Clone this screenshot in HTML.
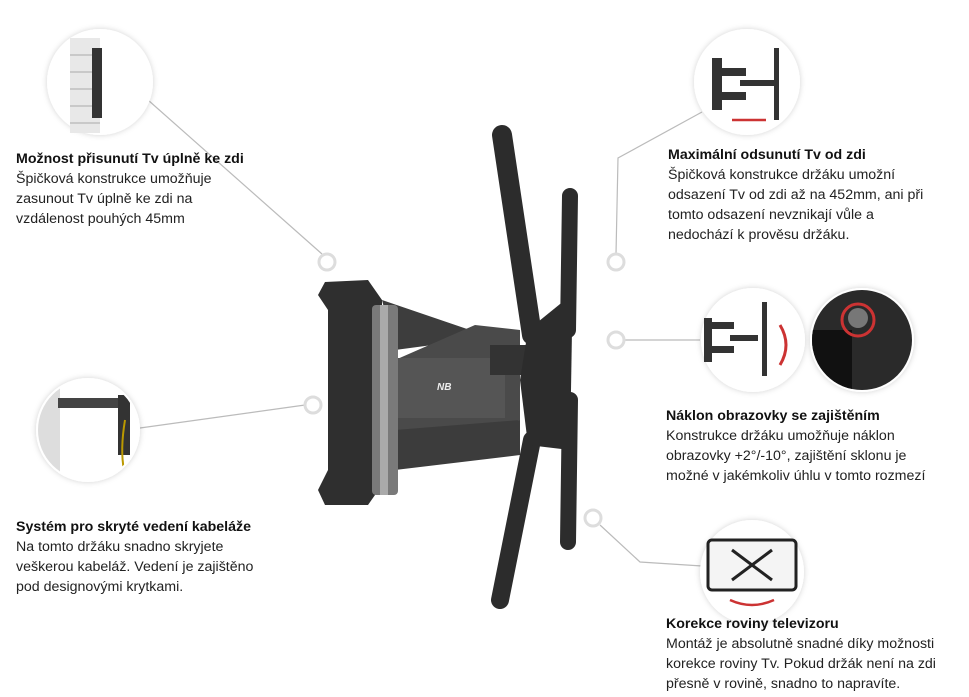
<!DOCTYPE html>
<html><head><meta charset="utf-8"><style>
html,body{margin:0;padding:0;background:#fff;}
body{width:969px;height:697px;position:relative;overflow:hidden;font-family:"Liberation Sans","DejaVu Sans",sans-serif;color:#222;}
.t{position:absolute;font-size:14.2px;line-height:20px;white-space:nowrap;}
.t b{font-weight:bold;color:#111;}
svg{position:absolute;left:0;top:0;}
</style></head><body>
<svg width="969" height="697" viewBox="0 0 969 697">
<defs>
<filter id="sh" x="-30%" y="-30%" width="160%" height="160%"><feDropShadow dx="0" dy="0" stdDeviation="3" flood-color="#000" flood-opacity="0.18"/></filter>
</defs>
<g stroke="#bbb" stroke-width="1.2" fill="none">
<line x1="148" y1="100" x2="322" y2="254"/>
<polyline points="702,112 618,158 616,254"/>
<line x1="624" y1="340" x2="700" y2="340"/>
<line x1="140" y1="428" x2="305" y2="405"/>
<polyline points="600,525 640,562 702,566"/>
</g>
<g fill="none" stroke="#ddd" stroke-width="3">
<circle cx="327" cy="262" r="8"/><circle cx="313" cy="405" r="8"/>
<circle cx="616" cy="262" r="8"/><circle cx="616" cy="340" r="8"/>
<circle cx="593" cy="518" r="8"/>
</g>
<g fill="#fff" filter="url(#sh)">
<circle cx="100" cy="82" r="53"/><circle cx="747" cy="82" r="53"/>
<circle cx="753" cy="340" r="52"/><circle cx="862" cy="340" r="52"/>
<circle cx="88" cy="430" r="52"/><circle cx="752" cy="572" r="52"/>
</g>
<g>
<rect x="70" y="38" width="30" height="95" fill="#e8e8e8"/>
<g stroke="#aaa" stroke-width="1" fill="none">
<line x1="70" y1="55" x2="100" y2="55"/><line x1="70" y1="72" x2="100" y2="72"/><line x1="70" y1="89" x2="100" y2="89"/><line x1="70" y1="106" x2="100" y2="106"/><line x1="70" y1="123" x2="100" y2="123"/>
</g>
<rect x="92" y="48" width="10" height="70" fill="#333"/>
</g>
<g fill="#333">
<rect x="712" y="58" width="10" height="52"/><rect x="720" y="68" width="26" height="8"/><rect x="720" y="92" width="26" height="8"/>
<rect x="740" y="80" width="34" height="6"/><rect x="774" y="48" width="5" height="72"/>
</g>
<line x1="732" y1="120" x2="766" y2="120" stroke="#c33" stroke-width="2.5"/>
<g fill="#333">
<rect x="704" y="318" width="8" height="44"/><rect x="710" y="322" width="24" height="7"/><rect x="710" y="346" width="24" height="7"/>
<rect x="730" y="335" width="28" height="6"/><rect x="762" y="302" width="5" height="74"/>
</g>
<path d="M780 325 Q792 345 780 365" stroke="#c33" stroke-width="3" fill="none"/>
<g>
<clipPath id="c2"><circle cx="862" cy="340" r="50"/></clipPath>
<g clip-path="url(#c2)">
<rect x="810" y="290" width="110" height="110" fill="#2a2a2a"/>
<rect x="812" y="330" width="40" height="70" fill="#111"/>
<circle cx="858" cy="318" r="10" fill="#777"/>
<circle cx="858" cy="320" r="16" fill="none" stroke="#c33" stroke-width="3"/>
</g>
</g>
<g>
<clipPath id="c3"><circle cx="88" cy="430" r="50"/></clipPath>
<g clip-path="url(#c3)">
<rect x="38" y="380" width="22" height="100" fill="#ddd"/>
<rect x="58" y="398" width="70" height="10" fill="#444"/>
<rect x="118" y="395" width="12" height="60" fill="#333"/>
<path d="M125 420 Q120 450 124 470" stroke="#b90" stroke-width="2" fill="none"/>
</g>
</g>
<rect x="708" y="540" width="88" height="50" rx="4" fill="#f4f4f4" stroke="#222" stroke-width="3"/>
<g stroke="#222" stroke-width="3"><line x1="732" y1="550" x2="772" y2="580"/><line x1="772" y1="550" x2="732" y2="580"/></g>
<path d="M730 600 Q752 610 774 600" stroke="#c33" stroke-width="2.5" fill="none"/>
<g>
<path d="M325 282 L368 280 L382 300 L382 485 L368 505 L325 505 L318 490 L328 470 L328 310 L318 295 Z" fill="#2f2f2f"/>
<path d="M382 300 L470 330 L470 340 L395 350 Z" fill="#3d3d3d"/>
<path d="M395 360 L475 325 L520 330 L520 420 L470 430 L395 430 Z" fill="#4a4a4a"/>
<path d="M395 430 L520 420 L520 455 L395 470 Z" fill="#3c3c3c"/>
<rect x="395" y="358" width="110" height="60" fill="#555"/>
<rect x="490" y="345" width="45" height="30" fill="#333"/>
<rect x="372" y="305" width="26" height="190" rx="4" fill="#7a7a7a"/>
<rect x="380" y="305" width="8" height="190" fill="#aaa"/>
<text x="437" y="390" font-size="10" fill="#eee" font-style="italic" font-weight="bold" font-family="Liberation Sans,sans-serif">NB</text>
<g stroke="#2c2c2c" stroke-linecap="round" fill="none">
<line x1="502" y1="135" x2="532" y2="335" stroke-width="20"/>
<line x1="570" y1="400" x2="568" y2="542" stroke-width="16"/>
<line x1="532" y1="440" x2="500" y2="600" stroke-width="18"/>
<line x1="570" y1="196" x2="568" y2="330" stroke-width="16"/>
</g>
<path d="M528 330 L565 300 L572 330 L570 450 L528 445 L520 380 Z" fill="#2c2c2c"/>
</g>
</svg>
<div class="t" style="left:16px;top:149px"><b>Možnost přisunutí Tv úplně ke zdi</b><br>Špičková konstrukce umožňuje<br>zasunout Tv úplně ke zdi na<br>vzdálenost pouhých 45mm</div>
<div class="t" style="left:16px;top:517px"><b>Systém pro skryté vedení kabeláže</b><br>Na tomto držáku snadno skryjete<br>veškerou kabeláž. Vedení je zajištěno<br>pod designovými krytkami.</div>
<div class="t" style="left:668px;top:145px"><b>Maximální odsunutí Tv od zdi</b><br>Špičková konstrukce držáku umožní<br>odsazení Tv od zdi až na 452mm, ani při<br>tomto odsazení nevznikají vůle a<br>nedochází k prověsu držáku.</div>
<div class="t" style="left:666px;top:406px"><b>Náklon obrazovky se zajištěním</b><br>Konstrukce držáku umožňuje náklon<br>obrazovky +2°/-10°, zajištění sklonu je<br>možné v jakémkoliv úhlu v tomto rozmezí</div>
<div class="t" style="left:666px;top:614px"><b>Korekce roviny televizoru</b><br>Montáž je absolutně snadné díky možnosti<br>korekce roviny Tv. Pokud držák není na zdi<br>přesně v rovině, snadno to napravíte.</div>
</body></html>
